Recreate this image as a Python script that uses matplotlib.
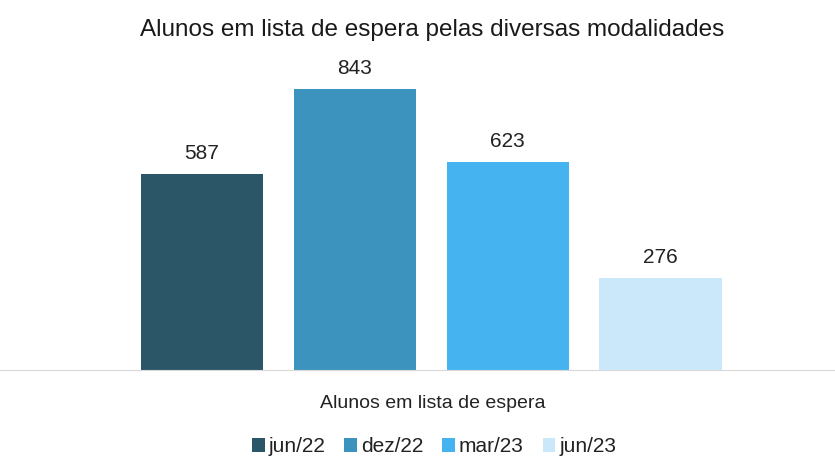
import matplotlib
matplotlib.use('Agg')
import matplotlib.pyplot as plt
from matplotlib import font_manager

# data
series = ['jun/22', 'dez/22', 'mar/23', 'jun/23']
values = [587, 843, 623, 276]
category = 'Alunos em lista de espera'
colors = ['#2b5668', '#3c93bd', '#46b3f1', '#cbe8fb']

names = {f.name for f in font_manager.fontManager.ttflist}
fam = 'Liberation Sans Narrow' if 'Liberation Sans Narrow' in names else 'Liberation Sans'
plt.rcParams['font.family'] = [fam, 'DejaVu Sans']

fig = plt.figure(figsize=(8.35, 4.59), dpi=100)
ax = fig.add_axes([0, 0.194, 1, 0.654])

xs = list(range(len(values)))
bars = ax.bar(xs, values, width=0.8, color=colors, label=series)
for x, v in zip(xs, values):
    ax.annotate(str(v), (x, v), xytext=(0, 8), textcoords='offset points',
                ha='center', va='bottom', fontsize=15, color='#222222')

ax.set_xlim(-1.32, 4.14)
ax.set_ylim(0, 900)
for s in ['top', 'right', 'left']:
    ax.spines[s].set_visible(False)
ax.spines['bottom'].set_color('#d9d9d9')
ax.set_yticks([])
ax.set_xticks([])

fig.text(0.518, 0.935, 'Alunos em lista de espera pelas diversas modalidades',
         ha='center', va='center', fontsize=17.5, color='#1a1a1a')
fig.text(0.518, 0.122, category, ha='center', va='center', fontsize=14, color='#222222')

fig.legend(bars, series, loc='center', bbox_to_anchor=(0.52, 0.027), ncol=4,
           frameon=False, fontsize=15, handlelength=0.6, handleheight=0.7,
           handletextpad=0.2, columnspacing=0.9, labelcolor='#222222')

fig.savefig('out.png', dpi=100, facecolor='white')
